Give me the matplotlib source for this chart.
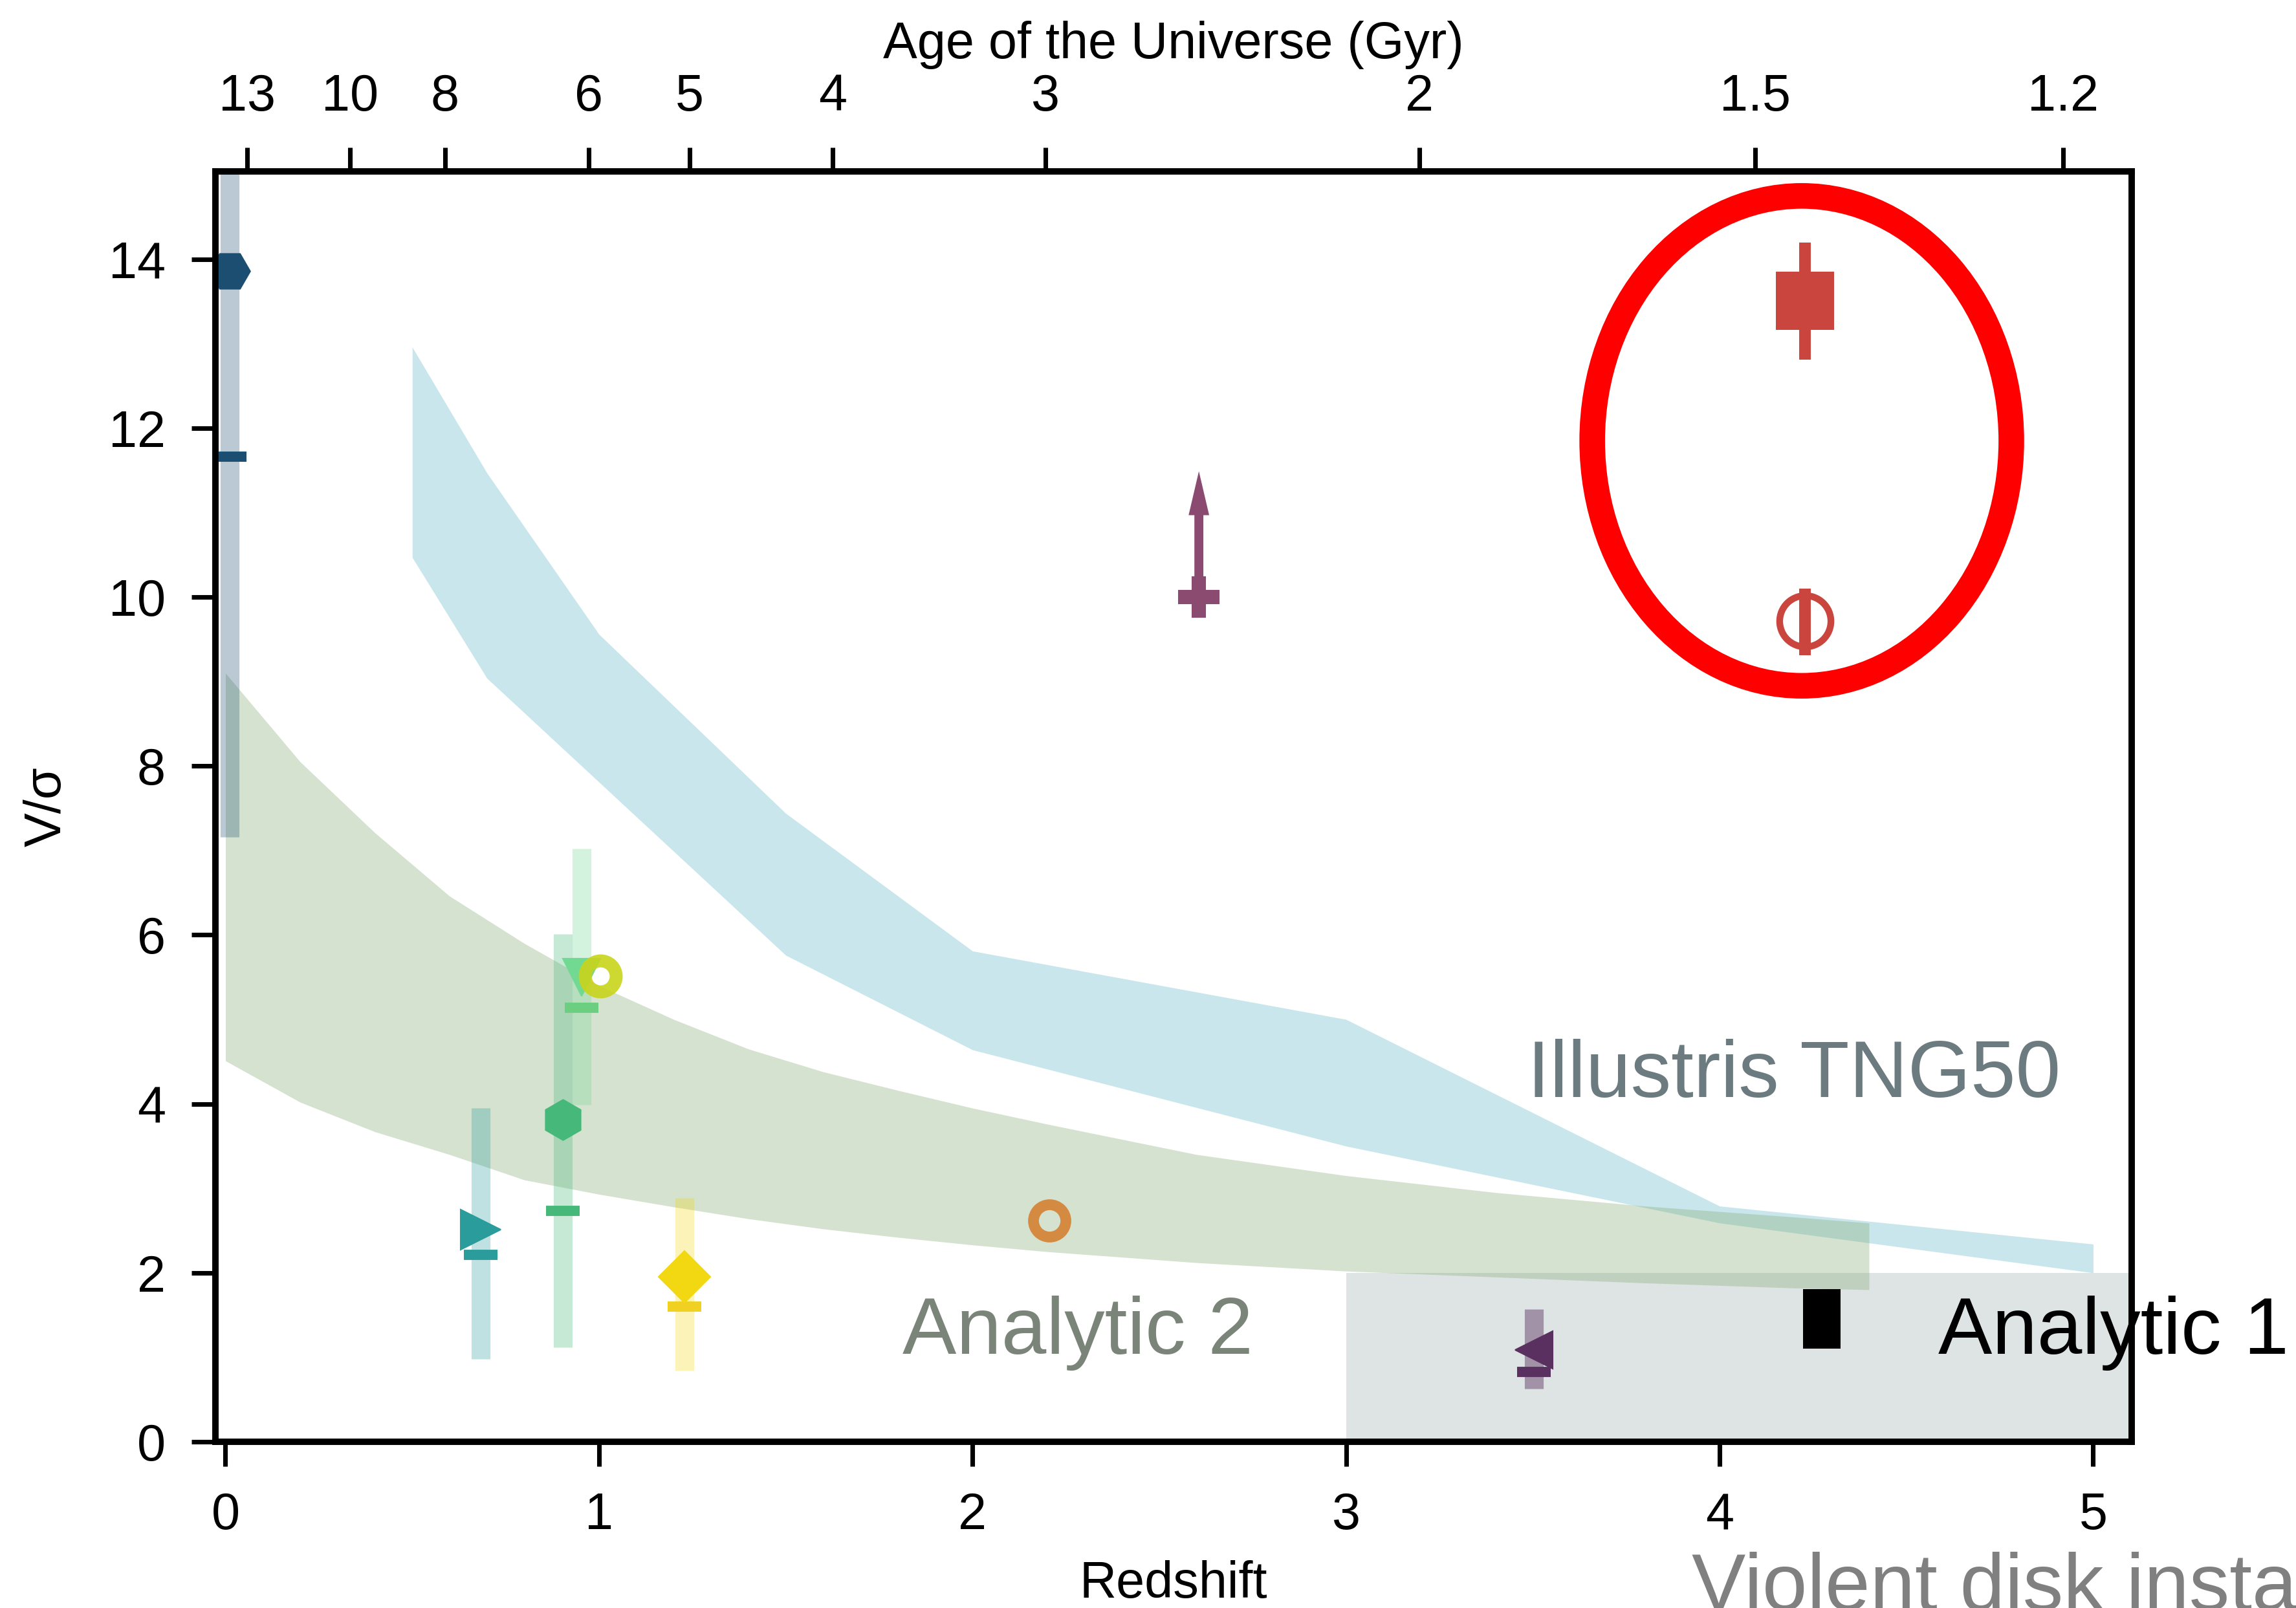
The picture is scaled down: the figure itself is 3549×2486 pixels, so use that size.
import numpy as np
import matplotlib
matplotlib.use("Agg")
import matplotlib.pyplot as plt
from matplotlib.patches import Ellipse

plt.rcParams["font.family"] = ["Liberation Sans", "DejaVu Sans"]

# ---- data ----
# Illustris TNG50 band
tng_z = [0.5, 0.7, 1.0, 1.5, 2.0, 3.0, 4.0, 5.0]
tng_lo = [10.47, 9.04, 7.81, 5.76, 4.64, 3.50, 2.59, 2.00]
tng_hi = [12.96, 11.47, 9.56, 7.44, 5.81, 5.00, 2.79, 2.34]

# Analytic 2 band
an2_z = [0.0, 0.2, 0.4, 0.6, 0.8, 1.0, 1.2, 1.4, 1.6, 1.8, 2.0, 2.2, 2.6, 3.0, 3.4, 3.8, 4.2, 4.4]
an2_hi = [9.10, 8.05, 7.21, 6.46, 5.90, 5.40, 5.00, 4.65, 4.38, 4.16, 3.95, 3.76, 3.40, 3.15, 2.95, 2.79, 2.66, 2.59]
an2_lo = [4.51, 4.02, 3.67, 3.40, 3.10, 2.93, 2.78, 2.64, 2.52, 2.42, 2.33, 2.25, 2.12, 2.02, 1.95, 1.88, 1.82, 1.80]

# violent disk instability region
vdi_z = [3.0, 5.2]
vdi_v = 2.0

# Analytic 1 (black bar)
an1_z = 4.273
an1_lo = 1.10
an1_hi = 1.81

# observations: position, marker, colour, size
obs_z = [0.012, 0.683, 0.903, 0.953, 1.228, 2.606, 3.503]
obs_v = [13.86, 2.51, 3.81, 5.50, 1.95, 10.00, 1.09]
obs_marker = ["H", ">", "h", "v", "D", "P", "<"]
obs_color = ["#1c4e72", "#2b9c9c", "#45b87a", "#72d992", "#f2d813", "#8b4a6f", "#5a3060"]
obs_size = [15, 15, 15, 14, 13.5, 15, 14]

# error ranges (wide translucent bars)
err_z = [0.012, 0.683, 0.903, 0.953, 1.228, 3.503]
err_lo = [7.16, 0.98, 1.12, 3.99, 0.84, 0.63]
err_hi = [15.5, 3.95, 6.01, 7.02, 2.89, 1.57]
err_color = ["#1c4e72", "#2b9c9c", "#45b87a", "#72d992", "#f2d813", "#5a3060"]
err_alpha = [0.3, 0.3, 0.3, 0.3, 0.3, 0.45]

# secondary values (dashes)
dash_z = [0.012, 0.683, 0.903, 0.953, 1.228, 3.503]
dash_v = [11.66, 2.21, 2.73, 5.14, 1.60, 0.83]
dash_color = ["#1c4e72", "#2b9c9c", "#45b87a", "#6ccf80", "#f0d020", "#5a3060"]

# open circles
ring_z = [1.003, 2.205]
ring_v = [5.51, 2.62]
ring_color = ["#c8d41a", "#d48a40"]

# lower limit arrow (purple)
arrow_z = 2.606
arrow_from = 10.0
arrow_to = 11.49

# red points
red_z = 4.228
red_sq_v, red_sq_lo, red_sq_hi = 13.51, 12.81, 14.20
red_ring_v, red_ring_lo, red_ring_hi = 9.72, 9.31, 10.10

# top axis: age of the universe
age_labels = ["13", "10", "8", "6", "5", "4", "3", "2", "1.5", "1.2"]
age_z = [0.058, 0.333, 0.588, 0.972, 1.243, 1.626, 2.195, 3.196, 4.096, 4.919]

xlim = (-0.027, 5.103)
ylim = (0, 15.04)

fig = plt.figure(figsize=(11.83, 8.2867), dpi=300)
ax = fig.add_axes([0.0938, 0.1034, 0.8346, 0.7900])

# bands
ax.fill_between(tng_z, tng_lo, tng_hi, color="#62b8c6", alpha=0.35, lw=0, zorder=1)
ax.fill_between(an2_z, an2_lo, an2_hi, color="#87ac79", alpha=0.35, lw=0, zorder=1.2)
ax.fill_between(vdi_z, 0, vdi_v, color="#bfcbcb", alpha=0.5, lw=0, zorder=0.9)

# error bars
for z, lo, hi, c, a in zip(err_z, err_lo, err_hi, err_color, err_alpha):
    ax.vlines(z, lo, hi, colors=c, alpha=a, linewidth=7, capstyle="butt", zorder=2)

# dashes
for z, v, c in zip(dash_z, dash_v, dash_color):
    ax.plot(z, v, marker="_", ms=12.3, mew=3.8, color=c, zorder=3)

# markers
for z, v, m, c, s in zip(obs_z, obs_v, obs_marker, obs_color, obs_size):
    ax.plot(z, v, marker=m, ms=s, color=c, mec=c, mew=0.5, linestyle="none", zorder=4)

ax.plot(ring_z[0], ring_v[0], marker="o", ms=11.5, mfc="none", mec=ring_color[0], mew=4.8,
        alpha=0.9, zorder=5)
ax.plot(ring_z[1], ring_v[1], marker="o", ms=12, mfc="none", mec=ring_color[1], mew=4.0, zorder=5)

ax.arrow(arrow_z, arrow_from, 0, arrow_to - arrow_from, width=0.024, head_width=0.055,
         head_length=0.52, length_includes_head=True, color="#8b4a6f", lw=0, zorder=4)

# red points
ax.vlines(red_z, red_sq_lo, red_sq_hi, colors="#c9453e", linewidth=4.3, capstyle="butt", zorder=4)
ax.plot(red_z, red_sq_v, marker="s", ms=21.5, color="#c9453e", mew=0, zorder=5)
ax.vlines(red_z, red_ring_lo, red_ring_hi, colors="#c9453e", linewidth=4.3, capstyle="butt", zorder=4)
ax.plot(red_z, red_ring_v, marker="o", ms=19, mfc="none", mec="#c9453e", mew=2.5, zorder=5)

# analytic 1
ax.bar(an1_z, an1_hi - an1_lo, bottom=an1_lo, width=0.1, color="black", zorder=4)

# hand drawn highlight
ax.add_patch(Ellipse((4.22, 11.85), 1.122, 5.80, fill=False, edgecolor="#ff0000",
                     linewidth=9.5, zorder=6, clip_on=False))

# labels on the plot
ax.text(3.485, 4.08, "Illustris TNG50", fontsize=30, color="#6c7b80", va="baseline", zorder=7)
ax.text(1.812, 1.044, "Analytic 2", fontsize=30, color="#7a8478", va="baseline", zorder=7)
ax.text(4.585, 1.044, "Analytic 1", fontsize=30, color="black", va="baseline", zorder=7,
        clip_on=False)
ax.text(3.926, -1.99, "Violent disk instability", fontsize=30, color="#808080",
        va="baseline", zorder=7, clip_on=False)

ax.set_xlim(*xlim)
ax.set_ylim(*ylim)
ax.set_xticks([0, 1, 2, 3, 4, 5])
ax.set_yticks([0, 2, 4, 6, 8, 10, 12, 14])
ax.tick_params(axis="both", direction="out", length=9, width=1.7, labelsize=19, pad=9.5,
               top=False, right=False)
for sp in ax.spines.values():
    sp.set_linewidth(2.3)
ax.set_xlabel("Redshift", fontsize=19)
ax.xaxis.set_label_coords(0.5, -0.093)
ax.set_ylabel("V/σ", fontsize=19)
ax.yaxis.set_label_coords(-0.075, 0.5)

ax2 = ax.twiny()
ax2.set_xlim(*xlim)
ax2.set_xticks(age_z)
ax2.set_xticklabels(age_labels)
ax2.tick_params(axis="x", direction="out", length=9, width=1.7, labelsize=19, pad=9.5)
for sp in ax2.spines.values():
    sp.set_linewidth(2.3)
ax2.set_xlabel("Age of the Universe (Gyr)", fontsize=19)
ax2.xaxis.set_label_coords(0.5, 1.089)

fig.savefig("out.png", dpi=300)
